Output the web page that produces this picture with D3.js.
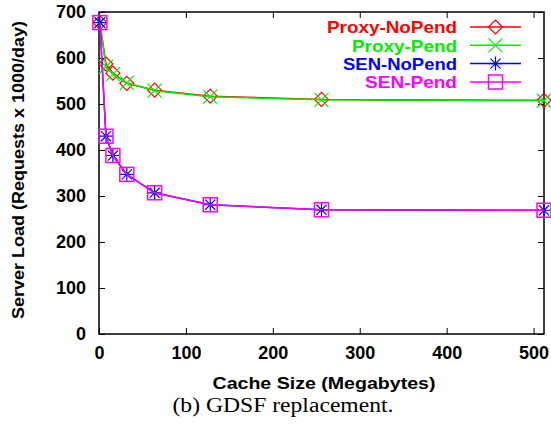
<!DOCTYPE html>
<html><head><meta charset="utf-8">
<script src="https://cdn.jsdelivr.net/npm/d3@7"></script>
<style>
body{margin:0;background:#fff;}
svg{display:block;}
text{font-family:"Liberation Sans",Arial,sans-serif;font-weight:bold;}
</style></head>
<body>
<svg id="c" width="551" height="425"></svg>
<script>
const cacheSizes = [1, 8, 16, 32, 64, 128, 256, 512];
const proxyNoPend = [677, 587, 567, 545, 530, 517, 510, 508];
const proxyPend   = [677, 581, 565, 546, 529, 516, 509, 507];
const senNoPend   = [677, 430, 388, 347, 307, 281, 270, 269];
const senPend     = [677, 430, 388, 347, 307, 281, 270, 269];
const seriesNames = ["Proxy-NoPend", "Proxy-Pend", "SEN-NoPend", "SEN-Pend"];
const seriesColors = ["#ff0000", "#00ee00", "#0000ff", "#ff00ff"];
const seriesMarkers = ["diamond", "cross", "star", "square"];
const legendWidths = [130, 105, 114, 92];
const xTicks = [0, 100, 200, 300, 400, 500];
const yTicks = [0, 100, 200, 300, 400, 500, 600, 700];

const svg = d3.select("#c");
const L = 99, R = 544, T = 12, B = 334;
const x = d3.scaleLinear().domain([0, 512]).range([L, R]);
const y = d3.scaleLinear().domain([0, 700]).range([B, T]);

const gx = svg.append("g").attr("transform", `translate(0,${B})`)
  .call(d3.axisBottom(x).tickValues(xTicks).tickSize(-6).tickPadding(12).tickFormat(d3.format("d")));
const gxt = svg.append("g").attr("transform", `translate(0,${T})`)
  .call(d3.axisTop(x).tickValues(xTicks).tickSize(-6).tickFormat(""));
const gy = svg.append("g").attr("transform", `translate(${L},0)`)
  .call(d3.axisLeft(y).tickValues(yTicks).tickSize(-6).tickPadding(13).tickFormat(d3.format("d")));
const gyr = svg.append("g").attr("transform", `translate(${R},0)`)
  .call(d3.axisRight(y).tickValues(yTicks).tickSize(-6).tickFormat(""));
[gx, gxt, gy, gyr].forEach(g => {
  g.select(".domain").remove();
  g.selectAll("line").attr("stroke", "#000").attr("stroke-width", 1);
});
[gx, gy].forEach(g => g.selectAll("text").attr("font-size", 18)
  .attr("font-family", "Liberation Sans").attr("font-weight", "bold").attr("fill", "#000"));

svg.append("rect").attr("x", L).attr("y", T).attr("width", R - L).attr("height", B - T)
  .attr("fill", "none").attr("stroke", "#000").attr("stroke-width", 1.5);

function marker(g, type, cx, cy, color) {
  const s = 7;
  if (type === "diamond") {
    g.append("path").attr("d", `M${cx},${cy - s}L${cx + s},${cy}L${cx},${cy + s}L${cx - s},${cy}Z`)
      .attr("fill", "none").attr("stroke", color).attr("stroke-width", 1.2);
  } else if (type === "cross") {
    g.append("path").attr("d", `M${cx - s},${cy - s}L${cx + s},${cy + s}M${cx - s},${cy + s}L${cx + s},${cy - s}`)
      .attr("stroke", color).attr("stroke-width", 1.2);
  } else if (type === "star") {
    const d = s * 0.72;
    g.append("path").attr("d", `M${cx - d},${cy - d}L${cx + d},${cy + d}M${cx - d},${cy + d}L${cx + d},${cy - d}M${cx},${cy - s}L${cx},${cy + s}M${cx - s},${cy}L${cx + s},${cy}`)
      .attr("stroke", color).attr("stroke-width", 1.2);
  } else {
    g.append("rect").attr("x", cx - s).attr("y", cy - s).attr("width", 2 * s).attr("height", 2 * s)
      .attr("fill", "none").attr("stroke", color).attr("stroke-width", 1.5);
  }
}

const allSeries = [proxyNoPend, proxyPend, senNoPend, senPend];
const line = d3.line().x((d, i) => x(cacheSizes[i])).y(d => y(d));
allSeries.forEach((vals, k) => {
  const g = svg.append("g");
  g.append("path").datum(vals).attr("d", line).attr("fill", "none")
    .attr("stroke", seriesColors[k]).attr("stroke-width", 1.5);
  vals.forEach((v, i) => marker(g, seriesMarkers[k], x(cacheSizes[i]), y(v), seriesColors[k]));
});

const legY = [27, 45.3, 63.6, 82];
seriesNames.forEach((n, k) => {
  const g = svg.append("g");
  g.append("text").attr("x", 457).attr("y", legY[k] + 6.3).attr("text-anchor", "end")
    .attr("font-size", 17).attr("textLength", legendWidths[k]).attr("lengthAdjust", "spacingAndGlyphs")
    .attr("fill", seriesColors[k]).text(n);
  g.append("line").attr("x1", 470).attr("x2", 521).attr("y1", legY[k]).attr("y2", legY[k])
    .attr("stroke", seriesColors[k]).attr("stroke-width", 1.5);
  marker(g, seriesMarkers[k], 495.5, legY[k], seriesColors[k]);
});

svg.append("text").attr("x", 324).attr("y", 389).attr("text-anchor", "middle")
  .attr("font-size", 17).attr("textLength", 223).attr("lengthAdjust", "spacingAndGlyphs")
  .text("Cache Size (Megabytes)");
svg.append("text").attr("transform", "translate(24,170) rotate(-90)").attr("text-anchor", "middle")
  .attr("font-size", 17).attr("textLength", 298).attr("lengthAdjust", "spacingAndGlyphs")
  .text("Server Load (Requests x 1000/day)");
svg.append("text").attr("x", 283).attr("y", 412).attr("text-anchor", "middle")
  .style("font-family", "'Liberation Serif','Times New Roman',serif").style("font-weight", "normal")
  .attr("font-size", 20).attr("textLength", 221).attr("lengthAdjust", "spacingAndGlyphs")
  .text("(b) GDSF replacement.");
</script>
</body></html>
